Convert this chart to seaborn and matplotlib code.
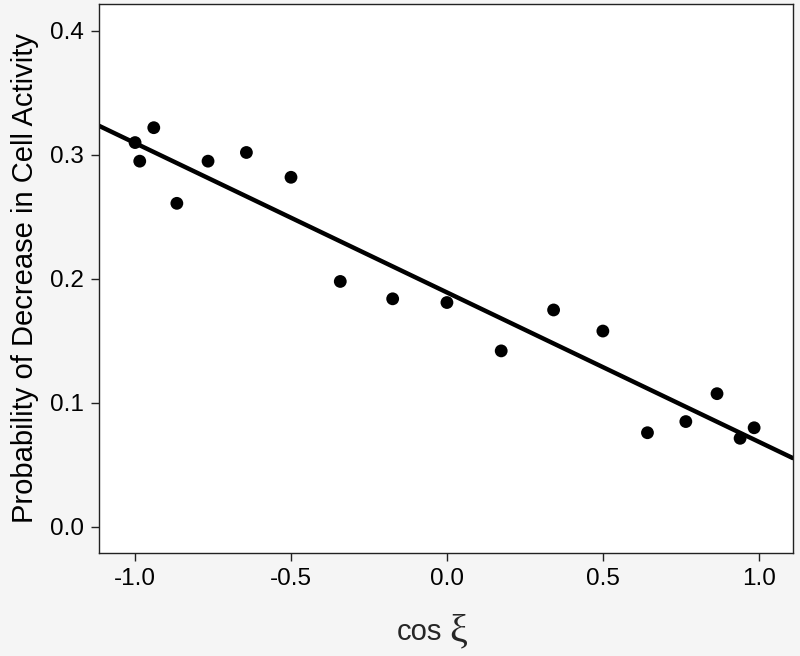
import pandas as pd
import matplotlib.pyplot as plt
import seaborn as sns

# cos(xi) values and observed probability of decrease
cos_xi = [-1.0, -0.985, -0.94, -0.866, -0.766, -0.643, -0.5, -0.342, -0.174, 0.0,
          0.174, 0.342, 0.5, 0.643, 0.766, 0.866, 0.94, 0.985]
prob_decrease = [0.310, 0.295, 0.322, 0.261, 0.295, 0.302, 0.282, 0.198, 0.184, 0.181,
                 0.142, 0.175, 0.158, 0.076, 0.085, 0.1075, 0.0715, 0.080]

df = pd.DataFrame({'cos': cos_xi, 'prob': prob_decrease})

sns.set_style('ticks')
plt.rcParams['font.family'] = ['Liberation Sans', 'DejaVu Sans']

fig = plt.figure(figsize=(8, 6.56), dpi=100, facecolor='#f5f5f5')
ax = fig.add_axes([0.124, 0.157, 0.867, 0.837])
ax.set_facecolor('white')

# limits first so the fitted line spans the whole axes
ax.set_xlim(-1.115, 1.109)
ax.set_ylim(-0.021, 0.4218)

sns.regplot(x='cos', y='prob', data=df, ax=ax, ci=None, truncate=False,
            scatter_kws={'s': 85, 'color': 'black', 'edgecolor': 'none', 'alpha': 1},
            line_kws={'color': 'black', 'lw': 3.2})

ax.set_xlim(-1.115, 1.109)
ax.set_ylim(-0.021, 0.4218)
ax.set_xticks([-1.0, -0.5, 0.0, 0.5, 1.0])
ax.set_yticks([0.0, 0.1, 0.2, 0.3, 0.4])
ax.set_xticklabels(['-1.0', '-0.5', '0.0', '0.5', '1.0'])
ax.set_yticklabels(['0.0', '0.1', '0.2', '0.3', '0.4'])
ax.tick_params(labelsize=17.5, length=6, width=1, color='#222222',
               labelcolor='black', direction='out', pad=5)

for s in ax.spines.values():
    s.set_visible(True)
    s.set_color('#222222')
    s.set_linewidth(1)

ax.set_xlabel('')
ax.set_ylabel('Probability of Decrease in Cell Activity', fontsize=21,
              labelpad=8, color='black')

# x label: "cos" in sans, a large serif xi next to it
fig.text(397 / 800, 1 - 640 / 656, 'cos', fontsize=21, ha='left', va='baseline')
fig.text(449 / 800, 1 - 641 / 656, 'ξ', fontsize=29, ha='left', va='baseline',
         family=['Liberation Serif', 'DejaVu Serif'])

fig.savefig('out.png', dpi=100, facecolor=fig.get_facecolor())
